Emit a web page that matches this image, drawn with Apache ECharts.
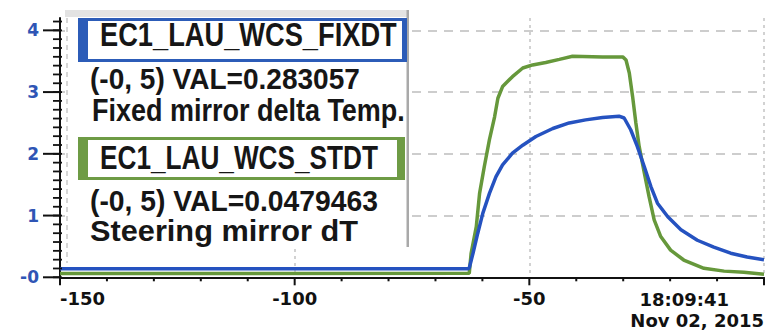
<!DOCTYPE html>
<html>
<head>
<meta charset="utf-8">
<script src="https://cdn.jsdelivr.net/npm/echarts@6/dist/echarts.min.js"></script>
<style>
  html, body { margin: 0; padding: 0; background: #fff; }
  #chart { width: 767px; height: 330px; }
</style>
</head>
<body>
<div id="chart"></div>
<script>
// Fixed mirror delta temperature (EC1_LAU_WCS_FIXDT), seconds before 18:09:41
const fixdtTime = [-150, -63, -62.8, -62.0, -61.0, -59.9, -58.5, -57.1, -55.7, -53.6,
  -51.4, -48.6, -45.0, -41.5, -38.0, -34.4, -30.9, -29.8, -28.4, -27.0,
  -25.5, -24.1, -22.7, -20.5, -17.7, -14.2, -10.7, -7.1, -3.6, 0];
const fixdtValue = [0.14, 0.14, 0.15, 0.39, 0.71, 1.04, 1.36, 1.63, 1.82, 2.01,
  2.14, 2.28, 2.41, 2.50, 2.55, 2.59, 2.61, 2.58, 2.39, 2.12,
  1.79, 1.47, 1.20, 0.98, 0.77, 0.60, 0.49, 0.39, 0.33, 0.283057];

// Steering mirror dT (EC1_LAU_WCS_STDT)
const stdtTime = [-150, -62.8, -62.4, -61.3, -60.6, -59.6, -58.5, -57.4, -56.7, -55.7,
  -53.6, -51.4, -49.3, -46.5, -43.6, -40.8, -34.4, -30.1, -29.4, -28.7,
  -28.0, -27.3, -26.6, -25.5, -24.5, -23.4, -22.0, -19.9, -17.1, -12.8,
  -8.5, -4.3, 0];
const stdtValue = [0.06, 0.065, 0.39, 0.82, 1.36, 1.79, 2.23, 2.60, 2.90, 3.09,
  3.25, 3.39, 3.44, 3.48, 3.53, 3.58, 3.57, 3.57, 3.52, 3.31,
  2.93, 2.50, 2.12, 1.69, 1.31, 0.93, 0.66, 0.44, 0.28, 0.146,
  0.10, 0.08, 0.0479463];

const seriesNames = ['EC1_LAU_WCS_FIXDT', 'EC1_LAU_WCS_STDT'];
const seriesDescriptions = ['Fixed mirror delta Temp.', 'Steering mirror dT'];
const seriesRange = '(-0, 5)';
const yTickValues = [0, 1, 2, 3, 4];
const xEndTime = '18:09:41';
const xEndDate = 'Nov 02, 2015';

// axis graduation
const X_MIN = -150, X_MAX = 0, X_MAJOR = 50, X_MINOR = 10;
const Y_MIN = 0, Y_MAX = 4.2, Y_MINOR = 1 / 7;

const BLUE = '#2552c0';
const GREEN = '#66983b';
const LABEL_BLUE = '#2f55b5';
const AXIS_FONT = '"DejaVu Sans", sans-serif';

const pairs = (xs, ys) => xs.map((x, i) => [x, ys[i]]);

// text is squeezed horizontally to fill a given width, like the trend panel readout
const measureCtx = document.createElement('canvas').getContext('2d');
const PANEL_FONT = '"Liberation Sans", Arial, sans-serif';
function fitText(str, left, right, midY, size) {
  measureCtx.font = 'bold ' + size + 'px ' + PANEL_FONT;
  const w = measureCtx.measureText(str).width || 1;
  return {
    type: 'text', x: left, y: midY, scaleX: (right - left) / w, z: 110,
    style: {
      text: str, fontSize: size, fontWeight: 'bold', fontFamily: PANEL_FONT,
      fill: '#161616', textAlign: 'left', textVerticalAlign: 'middle'
    }
  };
}
const rect = (x, y, w, h, fill, z) => ({ type: 'rect', z: z, shape: { x: x, y: y, width: w, height: h }, style: { fill: fill } });

const lastFix = fixdtValue[fixdtValue.length - 1];
const lastSt = stdtValue[stdtValue.length - 1];

const panel = [
  rect(65, 10, 343, 238, '#ffffff', 100),
  rect(65, 10, 343, 7, '#e3e3e3', 101),
  rect(406.5, 10, 2.5, 237, '#a9a9a9', 101),
  { type: 'line', z: 101, shape: { x1: 67, y1: 18, x2: 67, y2: 263 },
    style: { stroke: '#c9c9c9', lineWidth: 1.5, lineDash: [5, 4] } },
  // FIXDT name box
  rect(78, 18, 329, 44, '#2c5cb8', 102),
  rect(88, 21, 314, 38, '#ffffff', 103),
  // STDT name box
  rect(78, 137, 327, 43, '#6e9b45', 102),
  rect(88, 140, 309, 37, '#ffffff', 103),
  fitText(seriesNames[0], 100, 397, 35, 33),
  fitText(seriesRange + ' VAL=' + lastFix, 90, 360, 79, 30),
  fitText(seriesDescriptions[0], 92, 405, 110, 31),
  fitText(seriesNames[1], 100, 378, 157, 33),
  fitText(seriesRange + ' VAL=' + lastSt, 90, 378, 201, 30),
  fitText(seriesDescriptions[1], 90, 358, 231, 30)
];

const chart = echarts.init(document.getElementById('chart'), null, { renderer: 'svg' });
chart.setOption({
  animation: false,
  grid: { left: 60, right: 2, top: 18, bottom: 52.7 },
  xAxis: {
    type: 'value', min: X_MIN, max: X_MAX, interval: X_MAJOR,
    axisLine: { show: true, onZero: false, lineStyle: { color: '#111', width: 2 } },
    axisTick: { show: false },
    splitLine: { show: true, showMinLine: false, lineStyle: { color: '#c4c4c4', width: 1.5, type: [3, 4] } },
    axisLabel: {
      color: '#111', fontFamily: AXIS_FONT, fontWeight: 'bold', fontSize: 18,
      margin: 12, alignMinLabel: 'left', alignMaxLabel: 'right', hideOverlap: false,
      formatter: v => v === 0 ? '{t|' + xEndTime + '}\n{d|' + xEndDate + '}' : String(v),
      rich: {
        t: { align: 'right', padding: [0, 35, 0, 0], fontFamily: AXIS_FONT, fontWeight: 'bold', fontSize: 18, color: '#111', lineHeight: 21 },
        d: { fontFamily: AXIS_FONT, fontWeight: 'bold', fontSize: 18, color: '#111', lineHeight: 21 }
      }
    }
  },
  yAxis: {
    type: 'value', min: Y_MIN, max: Y_MAX, interval: 1,
    axisLine: { show: true, onZero: false, lineStyle: { color: '#111', width: 2 } },
    axisTick: { show: false },
    splitLine: { show: true, showMinLine: false, showMaxLine: false, lineStyle: { color: '#bdbdbd', width: 1.5, type: [9, 7] } },
    axisLabel: {
      show: true, margin: 21, color: LABEL_BLUE,
      fontFamily: AXIS_FONT, fontWeight: 'bold', fontSize: 17,
      formatter: v => yTickValues.indexOf(v) < 0 ? '' : (v === 0 ? '-0' : String(v))
    }
  },
  series: [{
    name: seriesNames[1], type: 'line', data: pairs(stdtTime, stdtValue),
    showSymbol: false, lineStyle: { color: GREEN, width: 3.5 }, itemStyle: { color: GREEN }, z: 3
  }, {
    name: seriesNames[0], type: 'line', data: pairs(fixdtTime, fixdtValue),
    showSymbol: false, lineStyle: { color: BLUE, width: 3.5 }, itemStyle: { color: BLUE }, z: 4
  }]
});

// Tick marks, placed through the grid's own scales
function axisTicks() {
  const toPx = (x, y) => chart.convertToPixel({ gridIndex: 0 }, [x, y]);
  const origin = toPx(X_MIN, Y_MIN);
  const tick = (x1, y1, x2, y2, w) => ({
    type: 'line', z: 120, silent: true,
    shape: { x1: x1, y1: y1, x2: x2, y2: y2 },
    style: { stroke: '#111', lineWidth: w }
  });
  const els = [];
  for (let k = 0; k * Y_MINOR <= Y_MAX + 1e-9; k++) {
    const py = toPx(X_MIN, Y_MIN + k * Y_MINOR)[1];
    els.push(tick(origin[0] - 7, py, origin[0] + 2, py, 1.8));
  }
  yTickValues.forEach(v => {
    const py = toPx(X_MIN, v)[1];
    els.push(tick(origin[0] - 17, py, origin[0], py, 2));
  });
  const steps = Math.round((X_MAX - X_MIN) / X_MINOR);
  for (let k = 0; k <= steps; k++) {
    const v = X_MIN + k * X_MINOR;
    const px = toPx(v, Y_MIN)[0];
    const major = (v - X_MIN) % X_MAJOR === 0;
    els.push(tick(px, origin[1], px, origin[1] + (major ? 8 : 4), 2));
  }
  return els;
}

chart.setOption({ graphic: panel.concat(axisTicks()) });
</script>
</body>
</html>
